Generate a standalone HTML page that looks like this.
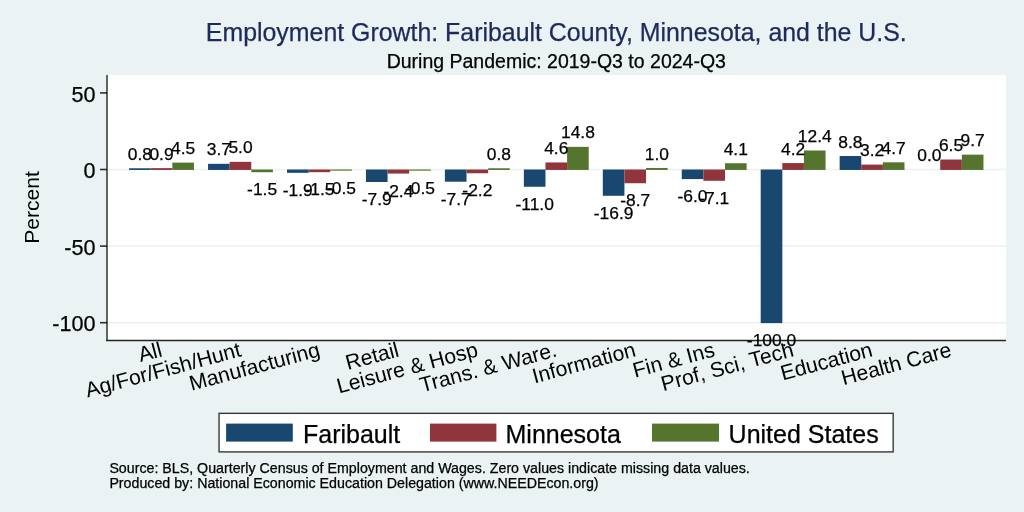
<!DOCTYPE html>
<html><head><meta charset="utf-8"><title>Employment Growth</title>
<style>
html,body{margin:0;padding:0;background:#eaf2f3;}
body{width:1024px;height:512px;overflow:hidden;}
svg{display:block;will-change:transform;}
text{font-family:"Liberation Sans",sans-serif;stroke-width:0.25px;}
</style></head><body>
<svg width="1024" height="512" viewBox="0 0 1024 512">
<rect x="0" y="0" width="1024" height="512" fill="#eaf2f3"/>

<rect x="107" y="75" width="899" height="265.5" fill="#ffffff"/>
<line x1="107" y1="169.5" x2="1006" y2="169.5" stroke="#eaf2f3" stroke-width="1.5"/>
<line x1="107" y1="246.1" x2="1006" y2="246.1" stroke="#eaf2f3" stroke-width="1.5"/>
<line x1="107" y1="322.7" x2="1006" y2="322.7" stroke="#eaf2f3" stroke-width="1.5"/>
<rect x="129.1" y="168.27" width="21.62" height="1.68" fill="#1a476f"/>
<rect x="150.72" y="168.12" width="21.62" height="1.83" fill="#90353b"/>
<rect x="172.34" y="162.61" width="21.62" height="7.34" fill="#55752f"/>
<rect x="208.05" y="163.83" width="21.62" height="6.12" fill="#1a476f"/>
<rect x="229.67" y="161.84" width="21.62" height="8.11" fill="#90353b"/>
<rect x="251.29" y="169.5" width="21.62" height="2.7" fill="#55752f"/>
<rect x="287" y="169.5" width="21.62" height="3.31" fill="#1a476f"/>
<rect x="308.62" y="169.5" width="21.62" height="2.7" fill="#90353b"/>
<rect x="330.24" y="169.5" width="21.62" height="1.17" fill="#55752f"/>
<rect x="365.95" y="169.5" width="21.62" height="12.5" fill="#1a476f"/>
<rect x="387.57" y="169.5" width="21.62" height="4.08" fill="#90353b"/>
<rect x="409.19" y="169.5" width="21.62" height="1.17" fill="#55752f"/>
<rect x="444.9" y="169.5" width="21.62" height="12.2" fill="#1a476f"/>
<rect x="466.52" y="169.5" width="21.62" height="3.77" fill="#90353b"/>
<rect x="488.14" y="168.27" width="21.62" height="1.68" fill="#55752f"/>
<rect x="523.85" y="169.5" width="21.62" height="17.25" fill="#1a476f"/>
<rect x="545.47" y="162.45" width="21.62" height="7.5" fill="#90353b"/>
<rect x="567.09" y="146.83" width="21.62" height="23.12" fill="#55752f"/>
<rect x="602.8" y="169.5" width="21.62" height="26.29" fill="#1a476f"/>
<rect x="624.42" y="169.5" width="21.62" height="13.73" fill="#90353b"/>
<rect x="646.04" y="167.97" width="21.62" height="1.98" fill="#55752f"/>
<rect x="681.75" y="169.5" width="21.62" height="9.59" fill="#1a476f"/>
<rect x="703.37" y="169.5" width="21.62" height="11.28" fill="#90353b"/>
<rect x="724.99" y="163.22" width="21.62" height="6.73" fill="#55752f"/>
<rect x="760.7" y="169.5" width="21.62" height="153.6" fill="#1a476f"/>
<rect x="782.32" y="163.07" width="21.62" height="6.88" fill="#90353b"/>
<rect x="803.94" y="150.5" width="21.62" height="19.45" fill="#55752f"/>
<rect x="839.65" y="156.02" width="21.62" height="13.93" fill="#1a476f"/>
<rect x="861.27" y="164.6" width="21.62" height="5.35" fill="#90353b"/>
<rect x="882.89" y="162.3" width="21.62" height="7.65" fill="#55752f"/>
<rect x="940.22" y="159.54" width="21.62" height="10.41" fill="#90353b"/>
<rect x="961.84" y="154.64" width="21.62" height="15.31" fill="#55752f"/>
<line x1="107" y1="75" x2="107" y2="340.5" stroke="#000" stroke-opacity="0.75" stroke-width="1.6"/>
<line x1="106.2" y1="340.5" x2="1006" y2="340.5" stroke="#000" stroke-opacity="0.85" stroke-width="1.6"/>
<line x1="100" y1="92.9" x2="107" y2="92.9" stroke="#000" stroke-opacity="0.8" stroke-width="1.6"/>
<text x="95.5" y="101.6" font-size="21.6" text-anchor="end" fill="#000" stroke="#000">50</text>
<line x1="100" y1="169.5" x2="107" y2="169.5" stroke="#000" stroke-opacity="0.8" stroke-width="1.6"/>
<text x="95.5" y="178.2" font-size="21.6" text-anchor="end" fill="#000" stroke="#000">0</text>
<line x1="100" y1="246.1" x2="107" y2="246.1" stroke="#000" stroke-opacity="0.8" stroke-width="1.6"/>
<text x="95.5" y="254.8" font-size="21.6" text-anchor="end" fill="#000" stroke="#000">-50</text>
<line x1="100" y1="322.7" x2="107" y2="322.7" stroke="#000" stroke-opacity="0.8" stroke-width="1.6"/>
<text x="95.5" y="331.4" font-size="21.6" text-anchor="end" fill="#000" stroke="#000">-100</text>
<text x="139.91" y="159.87" font-size="17.4" text-anchor="middle" fill="#000" stroke="#000">0.8</text>
<text x="161.53" y="159.72" font-size="17.4" text-anchor="middle" fill="#000" stroke="#000">0.9</text>
<text x="183.15" y="154.21" font-size="17.4" text-anchor="middle" fill="#000" stroke="#000">4.5</text>
<text x="218.86" y="155.43" font-size="17.4" text-anchor="middle" fill="#000" stroke="#000">3.7</text>
<text x="240.48" y="153.44" font-size="17.4" text-anchor="middle" fill="#000" stroke="#000">5.0</text>
<text x="262.1" y="195.4" font-size="17.4" text-anchor="middle" fill="#000" stroke="#000">-1.5</text>
<text x="297.81" y="196.01" font-size="17.4" text-anchor="middle" fill="#000" stroke="#000">-1.9</text>
<text x="319.43" y="195.4" font-size="17.4" text-anchor="middle" fill="#000" stroke="#000">-1.5</text>
<text x="341.05" y="193.87" font-size="17.4" text-anchor="middle" fill="#000" stroke="#000">-0.5</text>
<text x="376.76" y="205.2" font-size="17.4" text-anchor="middle" fill="#000" stroke="#000">-7.9</text>
<text x="398.38" y="196.78" font-size="17.4" text-anchor="middle" fill="#000" stroke="#000">-2.4</text>
<text x="420" y="193.87" font-size="17.4" text-anchor="middle" fill="#000" stroke="#000">-0.5</text>
<text x="455.71" y="204.9" font-size="17.4" text-anchor="middle" fill="#000" stroke="#000">-7.7</text>
<text x="477.33" y="196.47" font-size="17.4" text-anchor="middle" fill="#000" stroke="#000">-2.2</text>
<text x="498.95" y="159.87" font-size="17.4" text-anchor="middle" fill="#000" stroke="#000">0.8</text>
<text x="534.66" y="209.95" font-size="17.4" text-anchor="middle" fill="#000" stroke="#000">-11.0</text>
<text x="556.28" y="154.05" font-size="17.4" text-anchor="middle" fill="#000" stroke="#000">4.6</text>
<text x="577.9" y="138.43" font-size="17.4" text-anchor="middle" fill="#000" stroke="#000">14.8</text>
<text x="613.61" y="218.99" font-size="17.4" text-anchor="middle" fill="#000" stroke="#000">-16.9</text>
<text x="635.23" y="206.43" font-size="17.4" text-anchor="middle" fill="#000" stroke="#000">-8.7</text>
<text x="656.85" y="159.57" font-size="17.4" text-anchor="middle" fill="#000" stroke="#000">1.0</text>
<text x="692.56" y="202.29" font-size="17.4" text-anchor="middle" fill="#000" stroke="#000">-6.0</text>
<text x="714.18" y="203.98" font-size="17.4" text-anchor="middle" fill="#000" stroke="#000">-7.1</text>
<text x="735.8" y="154.82" font-size="17.4" text-anchor="middle" fill="#000" stroke="#000">4.1</text>
<text x="771.51" y="346.3" font-size="17.4" text-anchor="middle" fill="#000" stroke="#000">-100.0</text>
<text x="793.13" y="154.67" font-size="17.4" text-anchor="middle" fill="#000" stroke="#000">4.2</text>
<text x="814.75" y="142.1" font-size="17.4" text-anchor="middle" fill="#000" stroke="#000">12.4</text>
<text x="850.46" y="147.62" font-size="17.4" text-anchor="middle" fill="#000" stroke="#000">8.8</text>
<text x="872.08" y="156.2" font-size="17.4" text-anchor="middle" fill="#000" stroke="#000">3.2</text>
<text x="893.7" y="153.9" font-size="17.4" text-anchor="middle" fill="#000" stroke="#000">4.7</text>
<text x="929.41" y="161.1" font-size="17.4" text-anchor="middle" fill="#000" stroke="#000">0.0</text>
<text x="951.03" y="151.14" font-size="17.4" text-anchor="middle" fill="#000" stroke="#000">6.5</text>
<text x="972.65" y="146.24" font-size="17.4" text-anchor="middle" fill="#000" stroke="#000">9.7</text>
<text x="163.23" y="356.0" font-size="21.2" text-anchor="end" fill="#000" transform="rotate(-15 163.23 356.0)">All</text>
<text x="242.18" y="356.0" font-size="21.2" text-anchor="end" fill="#000" transform="rotate(-15 242.18 356.0)">Ag/For/Fish/Hunt</text>
<text x="321.13" y="356.0" font-size="21.2" text-anchor="end" fill="#000" transform="rotate(-15 321.13 356.0)">Manufacturing</text>
<text x="400.08" y="356.0" font-size="21.2" text-anchor="end" fill="#000" transform="rotate(-15 400.08 356.0)">Retail</text>
<text x="479.03" y="356.0" font-size="21.2" text-anchor="end" fill="#000" transform="rotate(-15 479.03 356.0)">Leisure &amp; Hosp</text>
<text x="557.98" y="356.0" font-size="21.2" text-anchor="end" fill="#000" transform="rotate(-15 557.98 356.0)">Trans. &amp; Ware.</text>
<text x="636.93" y="356.0" font-size="21.2" text-anchor="end" fill="#000" transform="rotate(-15 636.93 356.0)">Information</text>
<text x="715.88" y="356.0" font-size="21.2" text-anchor="end" fill="#000" transform="rotate(-15 715.88 356.0)">Fin &amp; Ins</text>
<text x="794.83" y="356.0" font-size="21.2" text-anchor="end" fill="#000" transform="rotate(-15 794.83 356.0)">Prof, Sci, Tech</text>
<text x="873.78" y="356.0" font-size="21.2" text-anchor="end" fill="#000" transform="rotate(-15 873.78 356.0)">Education</text>
<text x="952.73" y="356.0" font-size="21.2" text-anchor="end" fill="#000" transform="rotate(-15 952.73 356.0)">Health Care</text>
<text x="38.6" y="207.4" font-size="21.1" text-anchor="middle" fill="#000" transform="rotate(-90 38.6 207.4)">Percent</text>
<text x="556.3" y="40.75" font-size="24.9" text-anchor="middle" fill="#1c2b5c" stroke="#1c2b5c">Employment Growth: Faribault County, Minnesota, and the U.S.</text>
<text x="556.3" y="67.9" font-size="19.5" text-anchor="middle" fill="#000" stroke="#000">During Pandemic: 2019-Q3 to 2024-Q3</text>
<rect x="219.05" y="413.35" width="674.1" height="38.55" fill="#fff" stroke="#000" stroke-opacity="0.8" stroke-width="1.35"/>
<rect x="226.1" y="423.6" width="66.7" height="18" fill="#1a476f"/>
<rect x="430" y="423.6" width="66.4" height="18" fill="#90353b"/>
<rect x="652" y="423.6" width="67" height="18" fill="#55752f"/>
<text x="303" y="442.8" font-size="25" fill="#000" stroke="#000">Faribault</text>
<text x="505.52" y="442.8" font-size="25" fill="#000" stroke="#000">Minnesota</text>
<text x="728.6" y="442.8" font-size="25" fill="#000" stroke="#000">United States</text>
<text x="109.4" y="472.5" font-size="14.22" fill="#000" stroke="#000" stroke-width="0.1">Source: BLS, Quarterly Census of Employment and Wages. Zero values indicate missing data values.</text>
<text x="109.4" y="487.75" font-size="14.22" fill="#000" stroke="#000" stroke-width="0.1">Produced by: National Economic Education Delegation (www.NEEDEcon.org)</text>
</svg>
</body></html>
